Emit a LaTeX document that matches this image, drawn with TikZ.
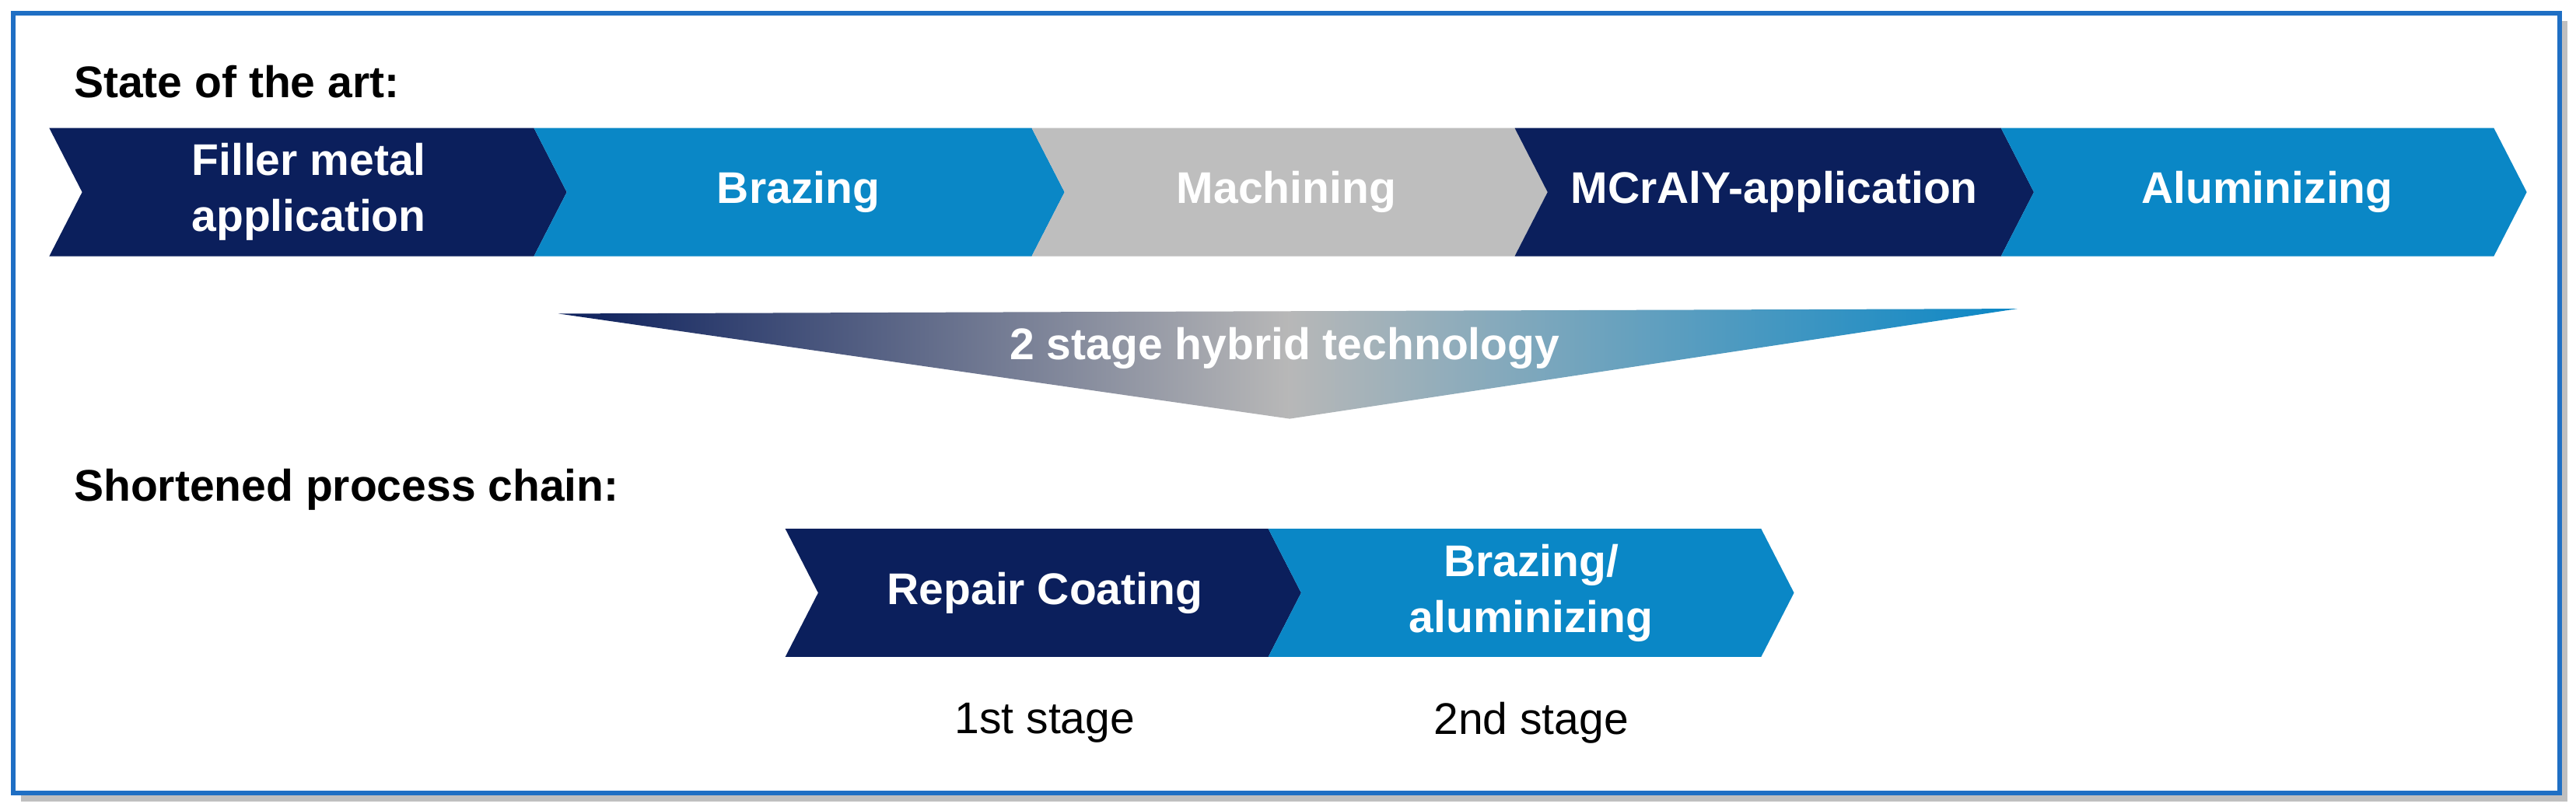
\documentclass[tikz,border=0pt]{standalone}
\usepackage{fontspec}
\setmainfont{Liberation Sans}
\definecolor{navy}{HTML}{0B1F5C}
\definecolor{lblue}{HTML}{0A87C6}
\definecolor{lgray}{HTML}{BEBEBE}
\definecolor{frame}{HTML}{1F6FC4}
\begin{document}
\begin{tikzpicture}[x=0.5pt,y=-0.5pt,
  lbl/.style={text=white,font=\bfseries\fontsize{13.5}{17}\selectfont,align=center},
  head/.style={anchor=west,font=\bfseries\fontsize{13.5}{16}\selectfont},
  stg/.style={font=\fontsize{13.5}{16}\selectfont}]
\useasboundingbox (0,0) rectangle (1568,491);
\fill[black!25] (13,13) rectangle (1563,488);
\fill[white] (8,8) rectangle (1558,483);
\draw[frame,line width=1.5pt] (8,8) rectangle (1558,483);
\newcommand{\chev}[5]{\fill[#3] (#1,#4) -- (#2,#4) -- ({#2+20},{(#4+#5)/2}) -- (#2,#5) -- (#1,#5) -- ({#1+20},{(#4+#5)/2}) -- cycle;}
\node[head] (h1) at (38,50) {State of the art:};
\chev{30}{325}{navy}{78}{156}
\chev{325}{628}{lblue}{78}{156}
\chev{628}{922}{lgray}{78}{156}
\chev{922}{1218}{navy}{78}{156}
\chev{1218}{1518}{lblue}{78}{156}
\node[lbl] (a) at (188,117) {Filler metal\\application};
\node[lbl] (b) at (486,117) {Brazing};
\node[lbl] (c) at (783,117) {Machining};
\node[lbl] (d) at (1080,117) {MCrAlY-application};
\node[lbl] (e) at (1380,117) {Aluminizing};
\shade[left color=navy,right color=lblue,middle color=black!28] (340,191) -- (1228,188) -- (785,255) -- cycle;
\node[lbl] (t) at (782,212) {2 stage hybrid technology};
\node[head] (h2) at (38,298) {Shortened process chain:};
\chev{478}{772}{navy}{322}{400}
\chev{772}{1072}{lblue}{322}{400}
\node[lbl] (f) at (636,361) {Repair Coating};
\node[lbl] (g) at (932,361) {Brazing/\\aluminizing};
\node[stg] (s1) at (636,440) {1st stage};
\node[stg] (s2) at (932,440) {2nd stage};
\end{tikzpicture}
\end{document}
